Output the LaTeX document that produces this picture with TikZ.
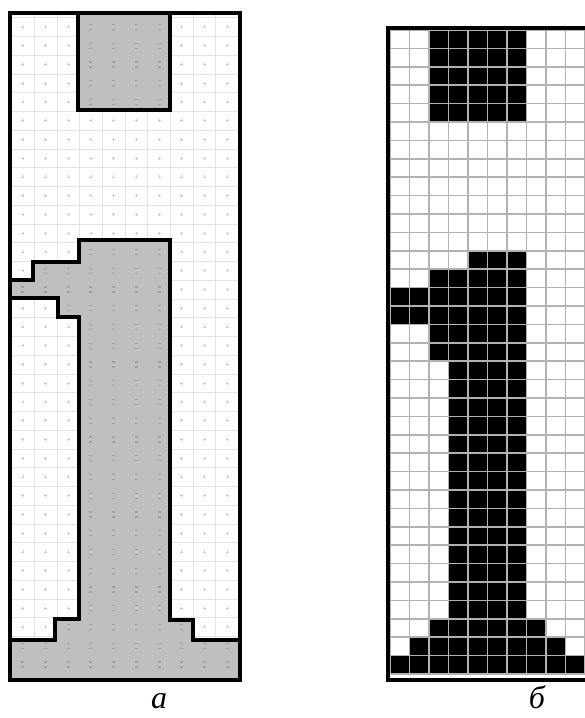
\documentclass[tikz,border=0pt]{standalone}
\usepackage{fontspec}
\setmainfont{Liberation Serif}

\tikzset{
  frame/.style={black, line width=2.6pt},
  contour/.style={black, line width=2.3pt},
  faintgrid/.style={gray!22, line width=0.5pt},
  pixgrid/.style={gray!60, line width=1.1pt},
  caption/.style={font=\fontsize{24}{28}\selectfont\itshape, anchor=base, inner sep=0pt}
}

\begin{document}
\begin{tikzpicture}[x=0.75pt, y=-0.75pt]
  % --- page 585 x 718 px, origin at top left, y downwards ---
  \useasboundingbox (0,0) rectangle (585,718);
  \clip (0,0) rectangle (585,718);

  % ===== panel a: grey scale image with its contour =====
  \def\ax{11.5}\def\ay{17.6}   % grid origin
  \def\aw{22.7}\def\ah{18.75}  % cell size
  \def\bodypath{(78,13) rectangle (170,110)
    (10,280) -- (33,280) -- (33,262) -- (79,262) -- (79,240) -- (170,240)
    -- (170,620) -- (193,620) -- (193,640) -- (240,640) -- (240,680)
    -- (10,680) -- (10,640) -- (55,640) -- (55,619) -- (79,619)
    -- (79,317) -- (58,317) -- (58,298) -- (10,298) -- cycle}

  \begin{scope}
    \clip (10,13) rectangle (240,680);
    % faint grid and marks in the light part
    \foreach \i in {0,...,10}
      \draw[faintgrid] ({\ax+\i*\aw},13) -- ({\ax+\i*\aw},680);
    \foreach \j in {-1,...,35}
      \draw[faintgrid] (10,{\ay+\j*\ah}) -- (240,{\ay+\j*\ah});
    \foreach \i in {0,...,9}
      \foreach \j in {-1,...,35}
        \draw[gray!40, line width=0.5pt]
          ({\ax+(\i+0.5)*\aw-1.5},{\ay+(\j+0.5)*\ah}) -- ++(3,0)
          ({\ax+(\i+0.5)*\aw},{\ay+(\j+0.5)*\ah-1.5}) -- ++(0,3);

    % grey body
    \fill[gray!50] \bodypath;
    \clip \bodypath;
    \foreach \i in {0,...,9}
      \foreach \j in {-1,...,35}
        \draw[gray!75, line width=0.8pt]
          ({\ax+(\i+0.5)*\aw-1.5},{\ay+(\j+0.5)*\ah-2.5}) -- ++(3,0)
          ({\ax+(\i+0.5)*\aw-1.5},{\ay+(\j+0.5)*\ah+2.5}) -- ++(3,0);
  \end{scope}

  % contour lines
  \draw[contour] (78,13) -- (78,110) -- (170,110) -- (170,13);
  \draw[contour] (10,280) -- (33,280) -- (33,262) -- (79,262) -- (79,240)
    -- (170,240) -- (170,620) -- (193,620) -- (193,640) -- (240,640);
  \draw[contour] (10,298) -- (58,298) -- (58,317) -- (79,317) -- (79,619)
    -- (55,619) -- (55,640) -- (10,640);
  \draw[frame] (10,13) rectangle (240,680);

  % ===== panel b: binary pixel image =====
  \def\bx{390}\def\by{30}    % grid origin
  \def\bw{19.5}\def\bh{18.4} % cell size
  % black pixels: first row / last row / first column / last column
  \foreach \r/\s/\c/\d in {1/5/3/7, 13/13/5/7, 14/14/3/7, 15/16/1/7,
      17/18/3/7, 19/32/4/7, 33/33/3/8, 34/34/2/9, 35/35/1/10}
    \fill[black] ({\bx+(\c-1)*\bw},{\by+(\r-1)*\bh})
      rectangle ({\bx+\d*\bw},{\by+\s*\bh});
  % pixel grid
  \foreach \i in {0,...,10}
    \draw[pixgrid] ({\bx+\i*\bw},\by) -- ({\bx+\i*\bw},{\by+35*\bh});
  \foreach \j in {0,...,35}
    \draw[pixgrid] (\bx,{\by+\j*\bh}) -- (585,{\by+\j*\bh});
  \draw[frame, line width=3pt] (590,27.5) -- (387.5,27.5) -- (387.5,679.5) -- (590,679.5);

  % captions
  \node[caption] (capa) at (159,708) {а};
  \node[caption] (capb) at (537,708) {б};
\end{tikzpicture}
\end{document}
